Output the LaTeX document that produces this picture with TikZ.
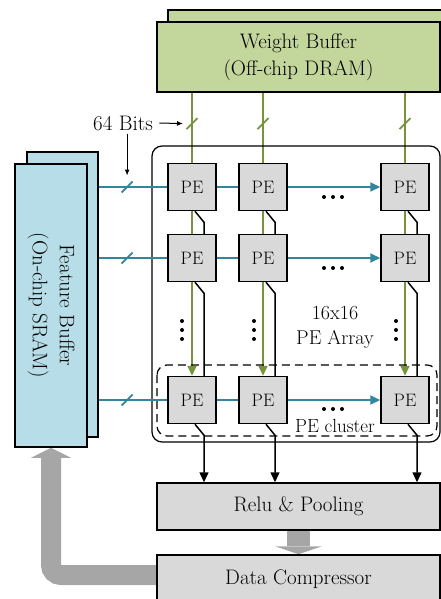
\documentclass[tikz,border=0pt]{standalone}
\usepackage{amsmath}
\usepackage{tikz}
\usetikzlibrary{arrows.meta, calc, backgrounds}

\definecolor{wbgreen}{HTML}{C3D69B}
\definecolor{wbline}{HTML}{77933C}
\definecolor{fbblue}{HTML}{B7DEE8}
\definecolor{fbline}{HTML}{31859C}
\definecolor{pegray}{HTML}{D9D9D9}
\definecolor{flowgray}{HTML}{A6A6A6}

\newcommand{\hdotrow}{\tikz{\fill (0pt,0pt) circle (2pt) (9pt,0pt) circle (2pt) (18pt,0pt) circle (2pt);}}
\newcommand{\vdotrow}{\tikz{\fill (0pt,0pt) circle (2pt) (0pt,9pt) circle (2pt) (0pt,18pt) circle (2pt);}}

\tikzset{
  buf/.style={draw, line width=1.5pt, inner sep=0pt, align=center},
  pe/.style={draw, fill=pegray, line width=1.5pt, minimum width=48pt, minimum height=47pt, inner sep=0pt, font=\fontsize{18}{20}\selectfont},
  stage/.style={draw, fill=pegray, line width=1.5pt, minimum width=283pt, inner sep=0pt},
  wbus/.style={draw=wbline, line width=1.8pt},
  fbus/.style={draw=fbline, line width=1.8pt},
  psum/.style={line width=1.5pt},
  bustip/.style={-{Triangle[length=10pt,width=9pt]}},
  note/.style={line width=1pt, -{Latex[length=6pt,width=5pt]}}
}

\begin{document}
\begin{tikzpicture}[x=1pt, y=-1pt, font=\fontsize{21}{27}\selectfont]
\useasboundingbox (0,0) rectangle (441,599);

% buffers
\node[buf, fill=wbgreen, minimum width=282pt, minimum height=50pt] (wbb) at (309,35) {};
\node[buf, fill=wbgreen, minimum width=283pt, minimum height=70pt] (wb) at (298.5,57) {Weight Buffer\\(Off-chip DRAM)};
\node[buf, fill=fbblue, minimum width=71pt, minimum height=285pt] (fbb) at (62.5,294.5) {};
\node[buf, fill=fbblue, minimum width=72pt, minimum height=283pt] (fb) at (51,305.5) {};
\node[rotate=-90, align=center] (fbtext) at (fb) {Feature Buffer\\(On-chip SRAM)};

% PE array frame
\draw[line width=1.2pt, rounded corners=10pt] (152,146) rectangle (440,442);
\draw[line width=1.2pt, dash pattern=on 8pt off 5pt, rounded corners=10pt] (157,365) rectangle (437,436);
\node[align=center, font=\fontsize{20}{25}\selectfont] (arr) at (335,327.5) {16x16\\PE Array};
\node[font=\fontsize{19}{22}\selectfont] (clu) at (335,426) {PE cluster};

\node[pe] (p11) at (192,187) {PE};
\node[pe] (p12) at (263,187) {PE};
\node[pe] (p13) at (405,187) {PE};
\node[pe] (p21) at (192,258) {PE};
\node[pe] (p22) at (263,258) {PE};
\node[pe] (p23) at (405,258) {PE};
\node[pe] (p31) at (192,400) {PE};
\node[pe] (p32) at (263,400) {PE};
\node[pe] (p33) at (405,400) {PE};

\node (hd1) at (333,197) {\hdotrow};
\node (hd2) at (333,268) {\hdotrow};
\node (hd3) at (333,409) {\hdotrow};
\node (vd1) at (182,330) {\vdotrow};
\node (vd2) at (254,330) {\vdotrow};
\node (vd3) at (396,330) {\vdotrow};

% post processing
\node[stage, minimum height=47pt] (rp) at (298.5,506.5) {Relu \& Pooling};
\node[stage, minimum height=48pt] (dc) at (298.5,579) {Data Compressor};

% weights
\begin{scope}[on background layer]
\draw[wbus, bustip] (wb.south -| p11) -- coordinate[pos=.109] (g1) (p31.north);
\draw[wbus, bustip] (wb.south -| p12) -- coordinate[pos=.109] (g2) (p32.north);
\draw[wbus, bustip] (wb.south -| p13) -- coordinate[pos=.109] (g3) (p33.north);
\draw[flowgray, line width=23pt, -{Triangle[length=8pt,width=47pt,line width=0pt]}] (rp.south) -- (dc.north);
\draw[flowgray, line width=20pt, rounded corners=10pt, -{Triangle[length=10pt,width=40pt,line width=0pt]}] (dc.west |- 0,575) -- (fb.south |- 0,575) -- (fb.south);
\end{scope}
\draw[wbus] ($(g1)+(-5.5,5.5)$) -- ($(g1)+(5.5,-5.5)$);
\draw[wbus] ($(g2)+(-5.5,5.5)$) -- ($(g2)+(5.5,-5.5)$);
\draw[wbus] ($(g3)+(-5.5,5.5)$) -- ($(g3)+(5.5,-5.5)$);

% features
\draw[fbus] (fbb.east |- p11.west) -- coordinate[pos=.414] (s1) (p11.west);
\draw[fbus] (fbb.east |- p21.west) -- coordinate[pos=.414] (s2) (p21.west);
\draw[fbus] (fbb.east |- p31.west) -- coordinate[pos=.414] (s3) (p31.west);
\draw[fbus] ($(s1)+(-5.5,5.5)$) -- ($(s1)+(5.5,-5.5)$);
\draw[fbus] ($(s2)+(-5.5,5.5)$) -- ($(s2)+(5.5,-5.5)$);
\draw[fbus] ($(s3)+(-5.5,5.5)$) -- ($(s3)+(5.5,-5.5)$);
\draw[fbus] (p11.east) -- (p12.west);
\draw[fbus] (p21.east) -- (p22.west);
\draw[fbus] (p31.east) -- (p32.west);
\draw[fbus, bustip] (p12.east) -- (p13.west);
\draw[fbus, bustip] (p22.east) -- (p23.west);
\draw[fbus, bustip] (p32.east) -- (p33.west);

% partial sums
\draw[psum] ($(p11.south)+(3,0)$) -- ++(9,11) -- ($(p21.north)+(12,0)$);
\draw[psum] ($(p12.south)+(3,0)$) -- ++(9,11) -- ($(p22.north)+(12,0)$);
\draw[psum] ($(p13.south)+(3,0)$) -- ++(9,11) -- ($(p23.north)+(12,0)$);
\draw[psum] ($(p21.south)+(3,0)$) -- ++(9,11) -- ($(p31.north)+(12,0)$);
\draw[psum] ($(p22.south)+(3,0)$) -- ++(9,11) -- ($(p32.north)+(12,0)$);
\draw[psum] ($(p23.south)+(3,0)$) -- ++(9,11) -- ($(p33.north)+(12,0)$);
\draw[psum, bustip] ($(p31.south)+(3,0)$) -- ++(9,11) coordinate (t1) -- (t1 |- rp.north);
\draw[psum, bustip] ($(p32.south)+(3,0)$) -- ++(9,11) coordinate (t2) -- (t2 |- rp.north);
\draw[psum, bustip] ($(p33.south)+(3,0)$) -- ++(9,11) coordinate (t3) -- (t3 |- rp.north);

% bus width
\node (bits) at (123,123) {64 Bits};
\draw[note] ([xshift=3pt]bits.east) -- ([xshift=-9pt]g1);
\draw[note] (bits.south -| s1) -- ([yshift=11.5pt]s1);
\end{tikzpicture}
\end{document}
